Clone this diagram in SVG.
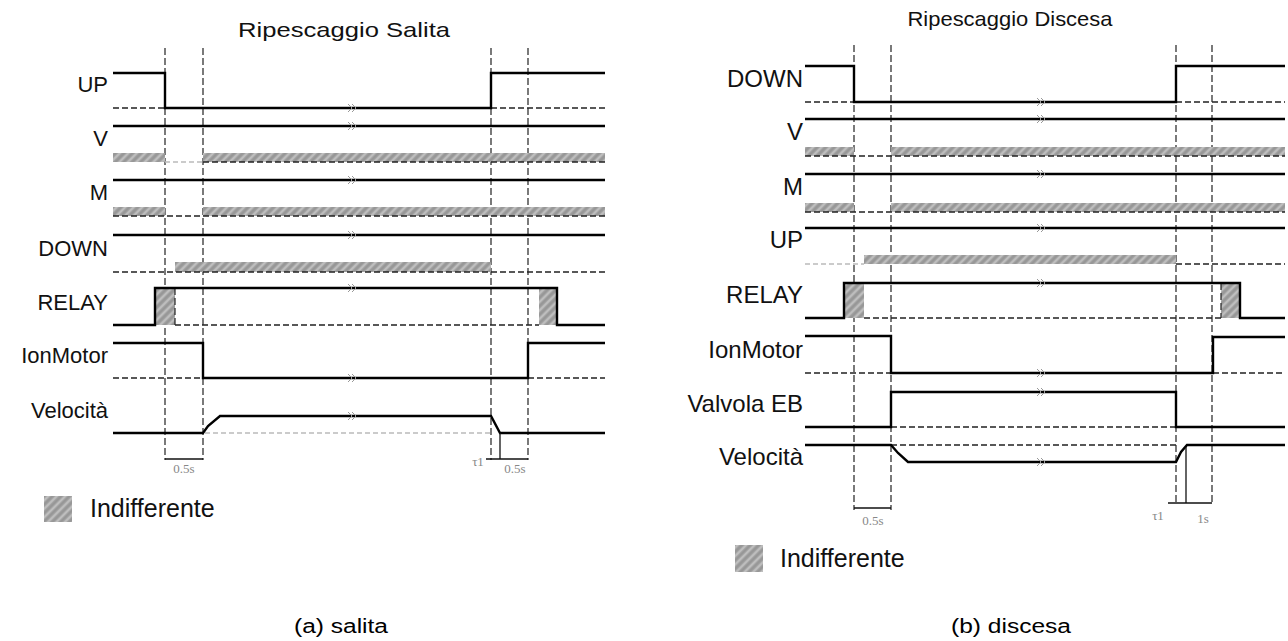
<svg xmlns="http://www.w3.org/2000/svg" width="1288" height="641" viewBox="0 0 1288 641">
<defs>
<pattern id="hatch" patternUnits="userSpaceOnUse" width="6" height="6" patternTransform="rotate(-45)">
<rect width="6" height="6" fill="#a4a4a4"/>
<line x1="0" y1="1" x2="6" y2="1" stroke="#cfcfcf" stroke-width="1.2"/>
<line x1="0" y1="4" x2="6" y2="4" stroke="#8a8a8a" stroke-width="1"/>
</pattern>
<g id="brk"><path d="M-1,-4 L3,0 L-1,4 M3,-4 L7,0 L3,4" fill="none" stroke="#999" stroke-width="1"/></g>
</defs>
<style>
.sig{fill:none;stroke:#000;stroke-width:2.4;stroke-linejoin:miter}
.base{fill:none;stroke:#222;stroke-width:1.3;stroke-dasharray:6 3}
.lbase{fill:none;stroke:#bbb;stroke-width:1.3;stroke-dasharray:5 3}
.guide{fill:none;stroke:#222;stroke-width:1.2;stroke-dasharray:7 3}
.hat{fill:url(#hatch)}
.dim{fill:none;stroke:#111;stroke-width:1.3}
.lbl{font-family:"Liberation Sans",Arial,sans-serif;fill:#111;text-anchor:end}
.l1{font-size:22px}
.l2{font-size:24px}
.ttl{font-family:"Liberation Sans",Arial,sans-serif;font-size:21px;fill:#111;text-anchor:middle}
.cap{font-family:"Liberation Sans",Arial,sans-serif;font-size:20px;fill:#000;text-anchor:middle}
.tm{font-family:"Liberation Serif","Times New Roman",serif;font-size:13px;fill:#888;text-anchor:middle}
.leg{font-family:"Liberation Sans",Arial,sans-serif;fill:#111}
</style>

<g id="title-a"><text class="ttl" x="344" y="37" textLength="212" lengthAdjust="spacingAndGlyphs">Ripescaggio Salita</text></g>
<g id="title-b"><text class="ttl" x="1010" y="26" textLength="205" lengthAdjust="spacingAndGlyphs">Ripescaggio Discesa</text></g>

<!-- Diagram (a) -->
<g id="a-guides">
<line class="guide" x1="165" y1="48" x2="165" y2="460"/>
<line class="guide" x1="203" y1="48" x2="203" y2="460"/>
<line class="guide" x1="491" y1="48" x2="491" y2="460"/>
<line class="guide" x1="528" y1="48" x2="528" y2="460"/>
</g>

<g id="a-UP">
<text class="lbl l1" x="108" y="92">UP</text>
<line class="base" x1="113" y1="108" x2="165" y2="108"/>
<line class="base" x1="491" y1="108" x2="605" y2="108"/>
<polyline class="sig" points="113,73 165,73 165,108 491,108 491,73 605,73"/>
</g>
<g id="a-V">
<text class="lbl l1" x="108" y="146">V</text>
<rect class="hat" x="113" y="153" width="52" height="9"/>
<rect class="hat" x="203" y="153" width="402" height="9"/>
<line class="lbase" x1="165" y1="162" x2="203" y2="162"/>
<line class="base" x1="203" y1="162" x2="605" y2="162"/>
<line class="sig" x1="113" y1="126" x2="605" y2="126"/>
</g>
<g id="a-M">
<text class="lbl l1" x="108" y="200">M</text>
<rect class="hat" x="113" y="207" width="52" height="9"/>
<rect class="hat" x="203" y="207" width="402" height="9"/>
<line class="base" x1="113" y1="216" x2="605" y2="216"/>
<line class="sig" x1="113" y1="180" x2="605" y2="180"/>
</g>
<g id="a-DOWN">
<text class="lbl l1" x="108" y="256">DOWN</text>
<rect class="hat" x="175" y="262" width="316" height="10"/>
<line class="base" x1="113" y1="272" x2="605" y2="272"/>
<line class="sig" x1="113" y1="235" x2="605" y2="235"/>
</g>
<g id="a-RELAY">
<text class="lbl l1" x="108" y="310">RELAY</text>
<rect class="hat" x="155" y="288" width="20" height="37"/>
<rect class="hat" x="539" y="288" width="18" height="37"/>
<line class="base" x1="175" y1="325" x2="539" y2="325"/>
<line class="guide" x1="175" y1="288" x2="175" y2="325"/>
<polyline class="sig" points="113,325 155,325 155,288 557,288 557,325 605,325"/>
</g>
<g id="a-IonMotor">
<text class="lbl l1" x="108" y="363">IonMotor</text>
<line class="base" x1="113" y1="378" x2="203" y2="378"/>
<line class="base" x1="528" y1="378" x2="605" y2="378"/>
<polyline class="sig" points="113,343 203,343 203,378 528,378 528,343 605,343"/>
</g>
<g id="a-Velocita">
<text class="lbl l1" x="108" y="418">Velocità</text>
<line class="lbase" x1="205" y1="433" x2="491" y2="433"/>
<polyline class="sig" points="113,433 203,433 208,426 220,416 491,416 500,433 605,433"/>
</g>
<g id="a-times">
<line class="dim" x1="165" y1="459" x2="203" y2="459"/>
<text class="tm" x="184" y="473">0.5s</text>
<line class="dim" x1="500" y1="433" x2="500" y2="459"/>
<line class="dim" x1="486" y1="459" x2="528" y2="459"/>
<text class="tm" x="478" y="466">τ1</text>
<text class="tm" x="515" y="473">0.5s</text>
</g>
<g id="a-breaks">
<use href="#brk" x="349" y="108"/><use href="#brk" x="349" y="126"/><use href="#brk" x="349" y="180"/>
<use href="#brk" x="349" y="235"/><use href="#brk" x="349" y="288"/><use href="#brk" x="349" y="378"/>
<use href="#brk" x="349" y="416"/>
</g>
<g id="a-legend">
<rect class="hat" x="44" y="496" width="28" height="26"/>
<text class="leg" x="90" y="517" font-size="25">Indifferente</text>
</g>

<!-- Diagram (b) -->
<g id="b-guides">
<line class="guide" x1="854" y1="45" x2="854" y2="510"/>
<line class="guide" x1="891" y1="45" x2="891" y2="510"/>
<line class="guide" x1="1176" y1="45" x2="1176" y2="505"/>
<line class="guide" x1="1212" y1="45" x2="1212" y2="505"/>
</g>
<g id="b-DOWN">
<text class="lbl l2" x="803" y="87">DOWN</text>
<line class="base" x1="805" y1="102" x2="854" y2="102"/>
<line class="base" x1="1176" y1="102" x2="1285" y2="102"/>
<polyline class="sig" points="805,66 854,66 854,102 1176,102 1176,66 1285,66"/>
</g>
<g id="b-V">
<text class="lbl l2" x="803" y="140">V</text>
<rect class="hat" x="805" y="147" width="49" height="9"/>
<rect class="hat" x="891" y="147" width="394" height="9"/>
<line class="base" x1="805" y1="156" x2="1285" y2="156"/>
<line class="sig" x1="805" y1="119" x2="1285" y2="119"/>
</g>
<g id="b-M">
<text class="lbl l2" x="803" y="195">M</text>
<rect class="hat" x="805" y="203" width="49" height="9"/>
<rect class="hat" x="891" y="203" width="394" height="9"/>
<line class="base" x1="805" y1="212" x2="1285" y2="212"/>
<line class="sig" x1="805" y1="174" x2="1285" y2="174"/>
</g>
<g id="b-UP">
<text class="lbl l2" x="803" y="248">UP</text>
<rect class="hat" x="864" y="255" width="312" height="9"/>
<line class="lbase" x1="805" y1="264" x2="864" y2="264"/>
<line class="base" x1="1176" y1="264" x2="1285" y2="264"/>
<line class="sig" x1="805" y1="228" x2="1285" y2="228"/>
</g>
<g id="b-RELAY">
<text class="lbl l2" x="803" y="303">RELAY</text>
<rect class="hat" x="844" y="283" width="20" height="35"/>
<rect class="hat" x="1221" y="283" width="19" height="35"/>
<line class="base" x1="864" y1="318" x2="1221" y2="318"/>
<line class="guide" x1="1221" y1="283" x2="1221" y2="318"/>
<polyline class="sig" points="805,318 844,318 844,283 1240,283 1240,318 1285,318"/>
</g>
<g id="b-IonMotor">
<text class="lbl l2" x="803" y="358">IonMotor</text>
<line class="base" x1="805" y1="373" x2="891" y2="373"/>
<line class="base" x1="1213" y1="373" x2="1285" y2="373"/>
<polyline class="sig" points="805,336 891,336 891,373 1213,373 1213,337 1285,337"/>
</g>
<g id="b-Valvola">
<text class="lbl l2" x="803" y="412">Valvola EB</text>
<line class="base" x1="891" y1="427" x2="1176" y2="427"/>
<polyline class="sig" points="805,427 891,427 891,392 1176,392 1176,427 1285,427"/>
</g>
<g id="b-Velocita">
<text class="lbl l2" x="803" y="465">Velocità</text>
<line class="base" x1="891" y1="445" x2="1176" y2="445"/>
<polyline class="sig" points="805,445 891,445 898,453 908,462 1176,462 1181,452 1187,445 1285,445"/>
</g>
<g id="b-times">
<line class="dim" x1="854" y1="508" x2="891" y2="508"/>
<text class="tm" x="873" y="525">0.5s</text>
<line class="dim" x1="1186" y1="447" x2="1186" y2="503"/>
<line class="dim" x1="1168" y1="503" x2="1212" y2="503"/>
<text class="tm" x="1158" y="520">τ1</text>
<text class="tm" x="1203" y="523">1s</text>
</g>
<g id="b-breaks">
<use href="#brk" x="1038" y="102"/><use href="#brk" x="1038" y="119"/><use href="#brk" x="1038" y="174"/>
<use href="#brk" x="1038" y="228"/><use href="#brk" x="1038" y="283"/><use href="#brk" x="1038" y="373"/>
<use href="#brk" x="1038" y="392"/><use href="#brk" x="1038" y="462"/>
</g>
<g id="b-legend">
<rect class="hat" x="735" y="545" width="28" height="27"/>
<text class="leg" x="780" y="567" font-size="25">Indifferente</text>
</g>

<g id="captions">
<text class="cap" x="341" y="633" textLength="94" lengthAdjust="spacingAndGlyphs">(a) salita</text>
<text class="cap" x="1011" y="633" textLength="120" lengthAdjust="spacingAndGlyphs">(b) discesa</text>
</g>
</svg>
